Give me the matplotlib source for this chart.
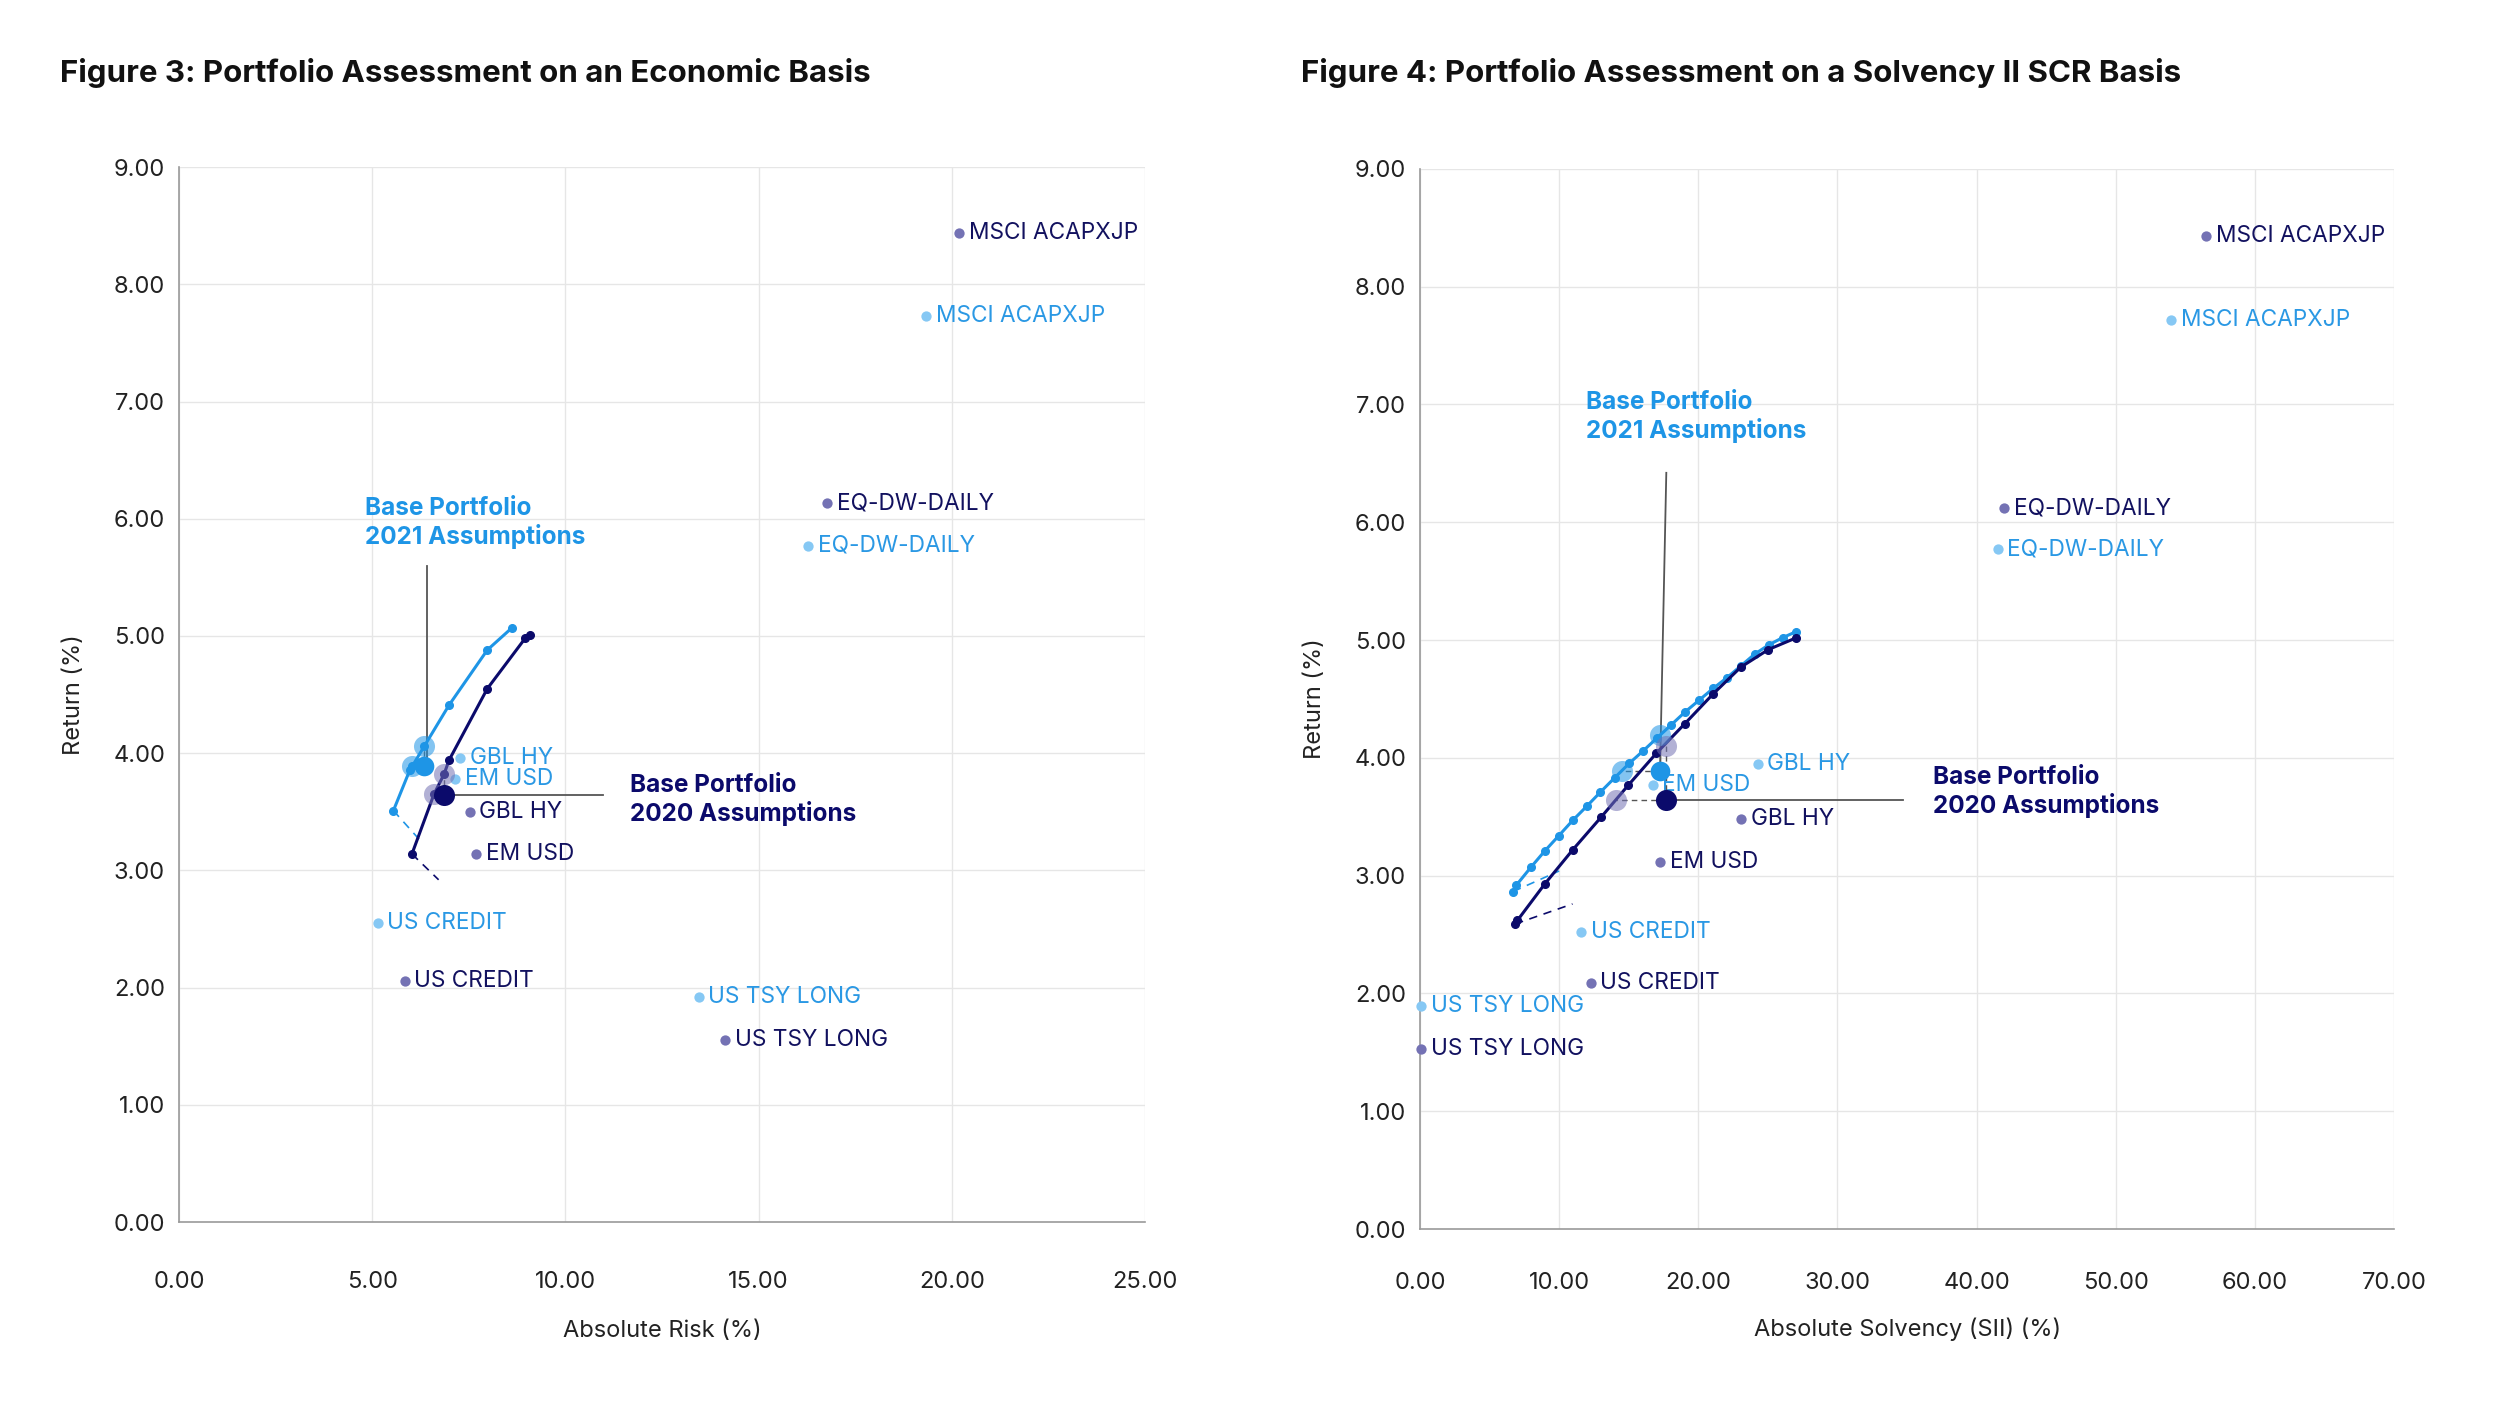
import matplotlib.pyplot as plt

plt.rcParams['font.family'] = ['Inter', 'DejaVu Sans']

LIGHT = "#1e95e6"
DARK = "#0b0a6b"
LIGHT_DOT = "#86c8f4"
DARK_DOT = "#7472b4"
LIGHT_TXT = "#2a98e4"
DARK_TXT = "#12115f"

assets = ["MSCI ACAPXJP", "EQ-DW-DAILY", "GBL HY", "EM USD", "US CREDIT", "US TSY LONG"]

# Figure 3 - economic basis
eco_risk_2020 = [20.19, 16.78, 7.52, 7.69, 5.84, 14.14]
eco_ret_2020 = [8.44, 6.13, 3.50, 3.14, 2.06, 1.55]
eco_risk_2021 = [19.33, 16.28, 7.28, 7.15, 5.14, 13.45]
eco_ret_2021 = [7.73, 5.77, 3.96, 3.78, 2.55, 1.92]

eco_front_2021_x = [5.55, 5.98, 6.04, 6.35, 6.99, 7.98, 8.62]
eco_front_2021_y = [3.51, 3.86, 3.89, 4.06, 4.41, 4.88, 5.07]
eco_front_2020_x = [6.03, 6.60, 6.86, 6.99, 7.98, 8.96, 9.08]
eco_front_2020_y = [3.14, 3.65, 3.82, 3.94, 4.55, 4.98, 5.01]
eco_tail_2021_x = [5.55, 6.23]
eco_tail_2021_y = [3.51, 3.26]
eco_tail_2020_x = [6.03, 6.72]
eco_tail_2020_y = [3.14, 2.92]

# base portfolio: [base, same-risk frontier point, same-return frontier point]
eco_base_2021_x = [6.35, 6.35, 6.04]
eco_base_2021_y = [3.89, 4.06, 3.89]
eco_base_2020_x = [6.86, 6.86, 6.60]
eco_base_2020_y = [3.64, 3.82, 3.65]

# Figure 4 - Solvency II SCR basis
sii_risk_2020 = [56.5, 42.0, 23.1, 17.28, 12.26, 0.07]
sii_ret_2020 = [8.43, 6.12, 3.48, 3.12, 2.09, 1.53]
sii_risk_2021 = [54.0, 41.5, 24.26, 16.71, 11.56, 0.07]
sii_ret_2021 = [7.72, 5.77, 3.95, 3.77, 2.52, 1.89]

sii_front_2021_x = [6.69, 6.93, 7.96, 8.97, 9.98, 10.98, 11.99, 12.97, 13.98, 15.05, 16.04,
                    17.04, 18.05, 19.05, 20.06, 21.07, 22.05, 23.05, 24.04, 25.07, 26.05, 27.0]
sii_front_2021_y = [2.865, 2.92, 3.07, 3.21, 3.34, 3.47, 3.59, 3.71, 3.83, 3.955, 4.06,
                    4.17, 4.28, 4.39, 4.49, 4.59, 4.68, 4.78, 4.88, 4.96, 5.02, 5.07]
sii_front_2020_x = [6.84, 7.0, 8.97, 10.98, 13.04, 14.98, 16.99, 19.03, 21.04, 23.05, 25.04, 27.05]
sii_front_2020_y = [2.59, 2.62, 2.93, 3.22, 3.50, 3.77, 4.04, 4.29, 4.54, 4.77, 4.92, 5.02]
sii_tail_2021_x = [6.69, 10.0]
sii_tail_2021_y = [2.865, 3.04]
sii_tail_2020_x = [6.84, 10.96]
sii_tail_2020_y = [2.59, 2.76]

sii_base_2021_x = [17.25, 17.25, 14.55]
sii_base_2021_y = [3.89, 4.19, 3.89]
sii_base_2020_x = [17.66, 17.66, 14.07]
sii_base_2020_y = [3.64, 4.10, 3.64]


def panel(ax, xmax, xstep, risk20, ret20, risk21, ret21,
          f21x, f21y, f20x, f20y, t21x, t21y, t20x, t20y,
          b21x, b21y, b20x, b20y, xlabel, xpad=35, xlabelpad=20):
    ax.set_xlim(0, xmax)
    ax.set_ylim(0, 9)
    ax.set_xticks(range(0, xmax + 1, xstep))
    ax.set_yticks(range(0, 10))
    ax.xaxis.set_major_formatter(lambda v, p: f"{v:.2f}")
    ax.yaxis.set_major_formatter(lambda v, p: f"{v:.2f}")
    ax.grid(color="#e6e6e6", lw=1.0)
    ax.set_axisbelow(True)
    for s in ["top", "right"]:
        ax.spines[s].set_visible(False)
    for s in ["left", "bottom"]:
        ax.spines[s].set_color("#9a9a9a")
        ax.spines[s].set_linewidth(1.2)
    ax.tick_params(length=0, labelsize=17, colors="#222222")
    ax.tick_params(axis="x", pad=xpad)
    ax.tick_params(axis="y", pad=10)
    ax.set_xlabel(xlabel, fontsize=17, color="#222222", labelpad=xlabelpad)
    ax.set_ylabel("Return (%)", fontsize=17, color="#222222", labelpad=20)

    # assets
    ax.scatter(risk20, ret20, s=55, color=DARK_DOT, zorder=3, clip_on=False, lw=0)
    ax.scatter(risk21, ret21, s=55, color=LIGHT_DOT, zorder=3, clip_on=False, lw=0)
    for name, x, y in zip(assets, risk20, ret20):
        ax.annotate(name, (x, y), xytext=(7, 0), textcoords="offset points",
                    va="center", fontsize=16.3, color=DARK_TXT)
    for name, x, y in zip(assets, risk21, ret21):
        ax.annotate(name, (x, y), xytext=(7, 0), textcoords="offset points",
                    va="center", fontsize=16.3, color=LIGHT_TXT)

    # frontiers
    ax.plot(t21x, t21y, color=LIGHT, lw=1.2, ls=(0, (5, 4)), zorder=2)
    ax.plot(t20x, t20y, color=DARK, lw=1.2, ls=(0, (5, 4)), zorder=2)
    ax.plot(f21x, f21y, color=LIGHT, lw=2.2, marker="o", ms=5.5, zorder=4)
    ax.plot(f20x, f20y, color=DARK, lw=2.2, marker="o", ms=5.5, zorder=4)

    # base portfolio projections
    for bx, by, col in [(b21x, b21y, LIGHT), (b20x, b20y, DARK_DOT)]:
        ax.plot([bx[0], bx[1]], [by[0], by[1]], color="#555555", lw=1.0, ls=(0, (4, 3)), zorder=3)
        ax.plot([bx[0], bx[2]], [by[0], by[2]], color="#555555", lw=1.0, ls=(0, (4, 3)), zorder=3)
        ax.scatter(bx[1:], by[1:], s=230, color=col, alpha=0.55, lw=0, zorder=5)
    ax.scatter([b21x[0]], [b21y[0]], s=200, color=LIGHT, lw=0, zorder=6)
    ax.scatter([b20x[0]], [b20y[0]], s=230, color=DARK, lw=0, zorder=6)


fig = plt.figure(figsize=(24.96, 14.04), dpi=100)
fig.patch.set_facecolor("white")

ax1 = fig.add_axes([0.0717, 0.1296, 0.3870, 0.7514])
panel(ax1, 25, 5, eco_risk_2020, eco_ret_2020, eco_risk_2021, eco_ret_2021,
      eco_front_2021_x, eco_front_2021_y, eco_front_2020_x, eco_front_2020_y,
      eco_tail_2021_x, eco_tail_2021_y, eco_tail_2020_x, eco_tail_2020_y,
      eco_base_2021_x, eco_base_2021_y, eco_base_2020_x, eco_base_2020_y,
      "Absolute Risk (%)")
ax1.plot([6.41, 6.41], [5.60, 3.89], color="#555555", lw=1.3, zorder=3)
ax1.plot([6.86, 10.97], [3.64, 3.64], color="#555555", lw=1.3, zorder=3)
ax1.text(4.81, 5.96, "Base Portfolio\n2021 Assumptions", fontsize=17.5, fontweight="bold",
         color=LIGHT, va="center", linespacing=1.2)
ax1.text(11.68, 3.60, "Base Portfolio\n2020 Assumptions", fontsize=17.5, fontweight="bold",
         color=DARK, va="center", linespacing=1.2)

ax2 = fig.add_axes([0.5689, 0.1246, 0.3903, 0.7551])
panel(ax2, 70, 10, sii_risk_2020, sii_ret_2020, sii_risk_2021, sii_ret_2021,
      sii_front_2021_x, sii_front_2021_y, sii_front_2020_x, sii_front_2020_y,
      sii_tail_2021_x, sii_tail_2021_y, sii_tail_2020_x, sii_tail_2020_y,
      sii_base_2021_x, sii_base_2021_y, sii_base_2020_x, sii_base_2020_y,
      "Absolute Solvency (SII) (%)", xpad=31, xlabelpad=17)
ax2.plot([17.70, 17.25], [6.42, 3.89], color="#555555", lw=1.3, zorder=3)
ax2.plot([17.66, 34.74], [3.64, 3.64], color="#555555", lw=1.3, zorder=3)
ax2.text(11.9, 6.89, "Base Portfolio\n2021 Assumptions", fontsize=17.5, fontweight="bold",
         color=LIGHT, va="center", linespacing=1.2)
ax2.text(36.84, 3.71, "Base Portfolio\n2020 Assumptions", fontsize=17.5, fontweight="bold",
         color=DARK, va="center", linespacing=1.2)

fig.text(60 / 2496, 1 - 73 / 1404, "Figure 3: Portfolio Assessment on an Economic Basis",
         fontsize=22.5, fontweight="bold", va="center", color="#111111")
fig.text(1301 / 2496, 1 - 73 / 1404, "Figure 4: Portfolio Assessment on a Solvency II SCR Basis",
         fontsize=22.5, fontweight="bold", va="center", color="#111111")

fig.savefig("out.png", dpi=100)
